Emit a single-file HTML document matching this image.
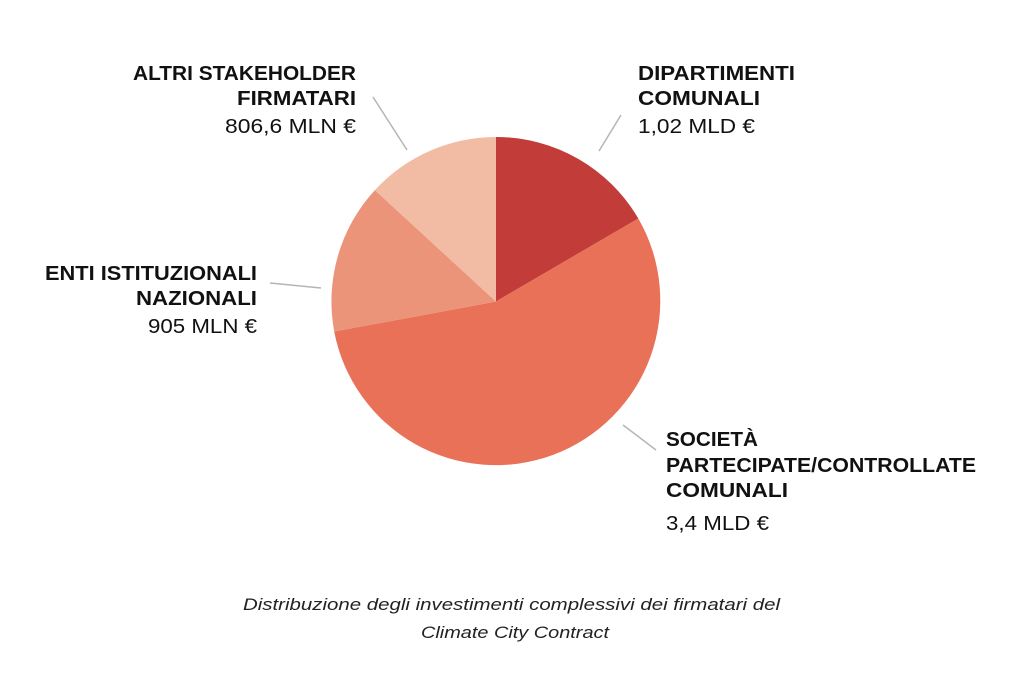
<!DOCTYPE html>
<html><head><meta charset="utf-8"><style>
body{margin:0;background:#fff;}
svg text{font-family:"Liberation Sans",sans-serif;fill:#111;}
.b{font-weight:bold;font-size:20px;}
.n{font-size:20px;}
.c{font-style:italic;font-size:17px;fill:#222;}
</style></head><body>
<svg width="1024" height="679" viewBox="0 0 1024 679" xmlns="http://www.w3.org/2000/svg">
<g stroke="none">
<path d="M496,301.5 L496,137 A164.5,164.5 0 0 1 638.3,218.5 Z" fill="#c23d39"/>
<path d="M496,301.5 L638.3,218.5 A164.5,164.5 0 1 1 334.2,331.5 Z" fill="#e87158"/>
<path d="M496,301.5 L334.2,331.5 A164.5,164.5 0 0 1 374.9,190.1 Z" fill="#ec9479"/>
<path d="M496,301.5 L374.9,190.1 A164.5,164.5 0 0 1 496,137 Z" fill="#f2bba4"/>
</g>
<g stroke="#b5b5b5" stroke-width="1.5">
<line x1="599" y1="151" x2="621" y2="115"/>
<line x1="373" y1="97" x2="407" y2="150"/>
<line x1="270" y1="283" x2="321" y2="288"/>
<line x1="623" y1="425" x2="656" y2="450"/>
</g>
<g lengthAdjust="spacingAndGlyphs">
<text class="b" x="638" y="80" textLength="157" lengthAdjust="spacingAndGlyphs">DIPARTIMENTI</text>
<text class="b" x="638" y="105" textLength="122" lengthAdjust="spacingAndGlyphs">COMUNALI</text>
<text class="n" x="638" y="133" textLength="117" lengthAdjust="spacingAndGlyphs">1,02 MLD €</text>
<text class="b" x="133" y="80" textLength="223" lengthAdjust="spacingAndGlyphs">ALTRI STAKEHOLDER</text>
<text class="b" x="237" y="105" textLength="119" lengthAdjust="spacingAndGlyphs">FIRMATARI</text>
<text class="n" x="225" y="133" textLength="131" lengthAdjust="spacingAndGlyphs">806,6 MLN €</text>
<text class="b" x="45" y="280" textLength="212" lengthAdjust="spacingAndGlyphs">ENTI ISTITUZIONALI</text>
<text class="b" x="136" y="305" textLength="121" lengthAdjust="spacingAndGlyphs">NAZIONALI</text>
<text class="n" x="148" y="333" textLength="109" lengthAdjust="spacingAndGlyphs">905 MLN €</text>
<text class="b" x="666" y="446" textLength="92" lengthAdjust="spacingAndGlyphs">SOCIETÀ</text>
<text class="b" x="666" y="472" textLength="310" lengthAdjust="spacingAndGlyphs">PARTECIPATE/CONTROLLATE</text>
<text class="b" x="666" y="497" textLength="122" lengthAdjust="spacingAndGlyphs">COMUNALI</text>
<text class="n" x="666" y="530" textLength="103" lengthAdjust="spacingAndGlyphs">3,4 MLD €</text>
<text class="c" x="243" y="610" textLength="537" lengthAdjust="spacingAndGlyphs">Distribuzione degli investimenti complessivi dei firmatari del</text>
<text class="c" x="421" y="638" textLength="188" lengthAdjust="spacingAndGlyphs">Climate City Contract</text>
</g>
</svg>
</body></html>
